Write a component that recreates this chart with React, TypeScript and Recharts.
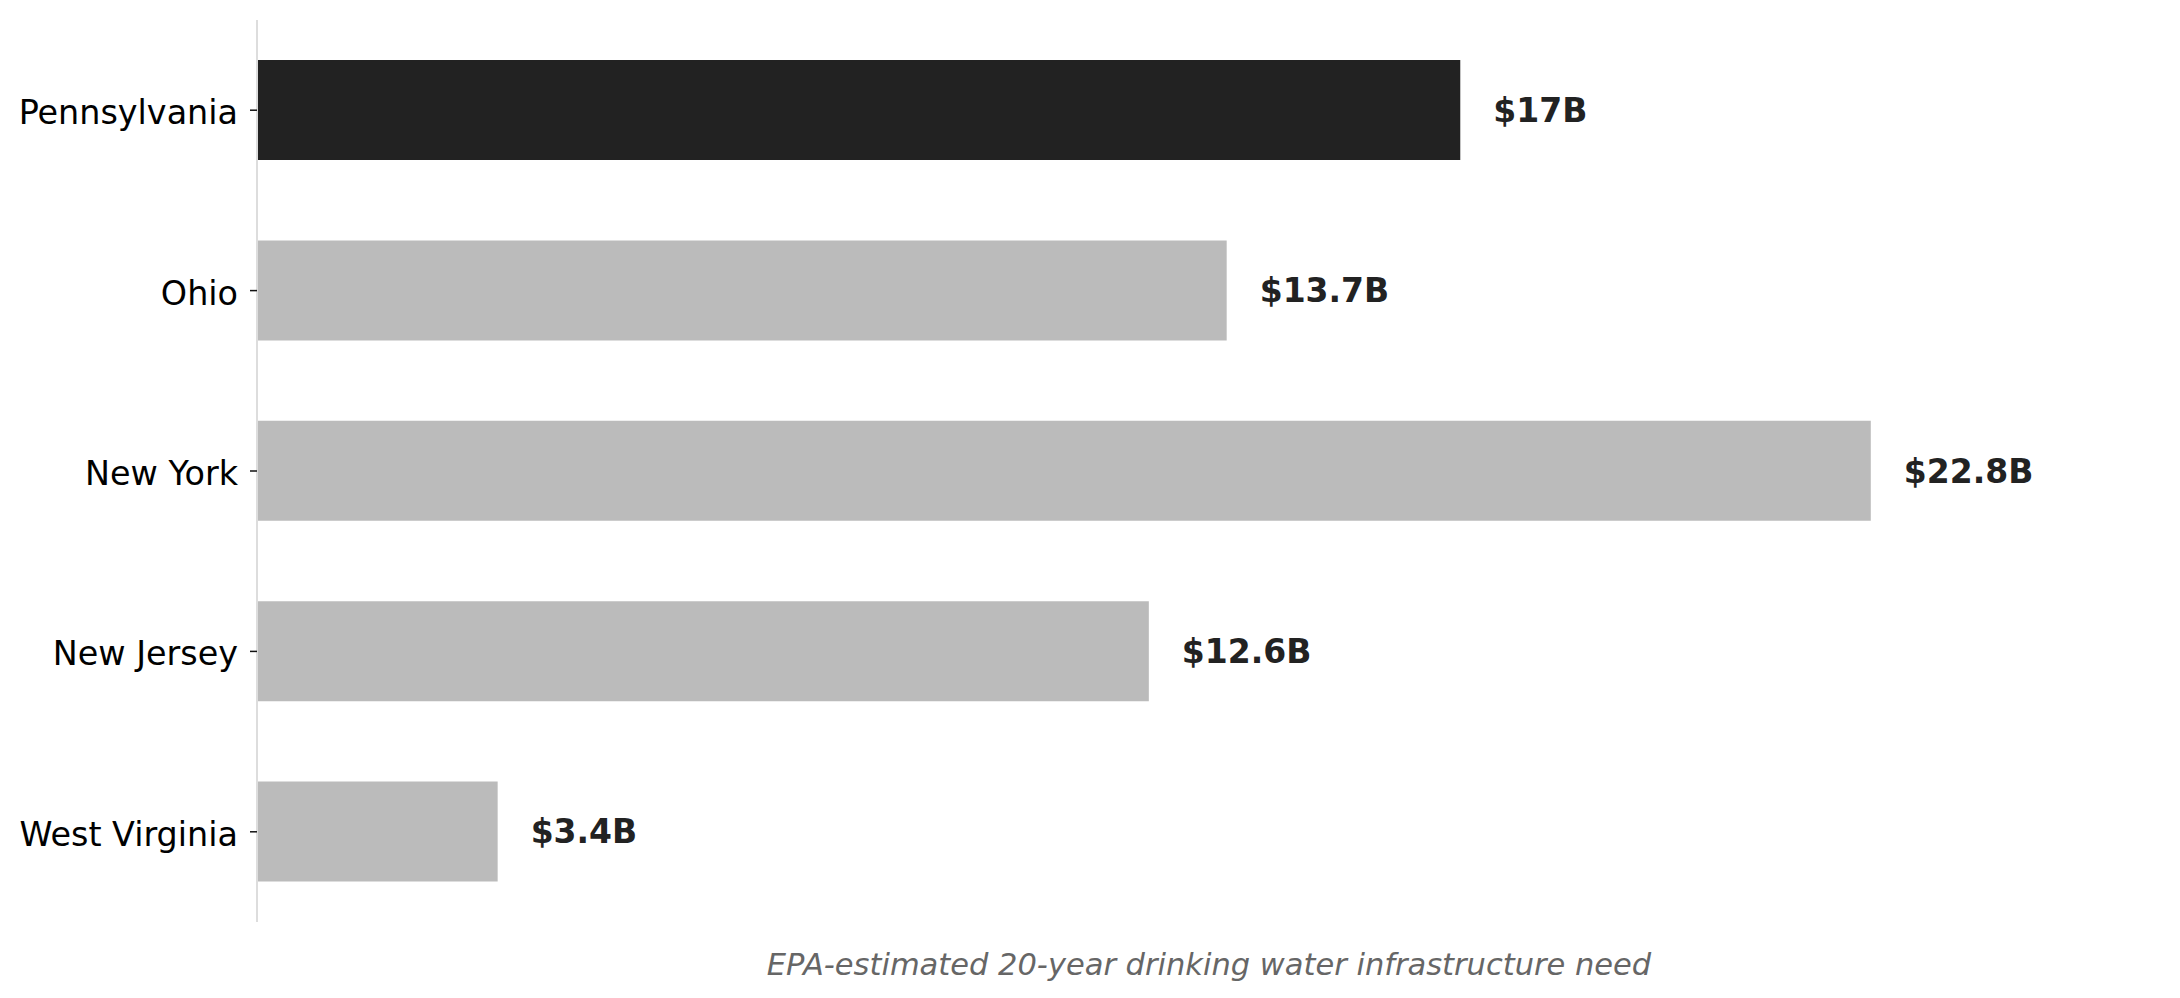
import { BarChart, Bar, XAxis, YAxis, Cell, LabelList, Label } from 'recharts'

const states = ['Pennsylvania', 'Ohio', 'New York', 'New Jersey', 'West Virginia']
const needBillions = [17, 13.7, 22.8, 12.6, 3.4]
const highlighted = 'Pennsylvania'
const caption = 'EPA-estimated 20-year drinking water infrastructure need'

const data = states.map((state, i) => ({ state, need: needBillions[i] }))

const FONT = '"DejaVu Sans", Verdana, sans-serif'

const renderCaption = (props: any) => {
  const vb = props.viewBox || {}
  return (
    <text
      x={vb.x + vb.width / 2}
      y={975}
      textAnchor='middle'
      fontFamily={FONT}
      fontSize={30.5}
      fontStyle='italic'
      fill='#666666'
    >
      {caption}
    </text>
  )
}

const StateTick = ({ x, y, payload }: any) => (
  <text x={x} y={y} dy='0.42em' textAnchor='end' fontFamily={FONT} fontSize={33.4} fill='#000000'>
    {payload.value}
  </text>
)

export default function App() {
  return (
    <div style={{ position: 'absolute', left: 0, top: 0, background: '#fff' }}>
      <BarChart
        layout='vertical'
        width={2180}
        height={998}
        data={data}
        margin={{ top: 20, right: 19, bottom: 0, left: 0 }}
        style={{ fontFamily: FONT }}
      >
        <XAxis
          type='number'
          domain={[0, 26.9]}
          tick={false}
          axisLine={false}
          tickLine={false}
          height={76}
        >
          <Label content={renderCaption} />
        </XAxis>
        <YAxis
          type='category'
          dataKey='state'
          width={257}
          axisLine={{ stroke: '#dddddd', strokeWidth: 2 }}
          tickLine={{ stroke: '#111111', strokeWidth: 1.5 }}
          tickSize={7}
          tickMargin={12}
          tick={<StateTick />}
        />
        <Bar dataKey='need' barSize={100} isAnimationActive={false}>
          {data.map((d) => (
            <Cell key={d.state} fill={d.state === highlighted ? '#222222' : '#bbbbbb'} />
          ))}
          <LabelList
            dataKey='need'
            position='right'
            offset={33}
            formatter={(v: any) => `$${v}B`}
            style={{ fontSize: 33, fontWeight: 'bold', fill: '#222222', fontFamily: FONT }}
          />
        </Bar>
      </BarChart>
    </div>
  )
}
